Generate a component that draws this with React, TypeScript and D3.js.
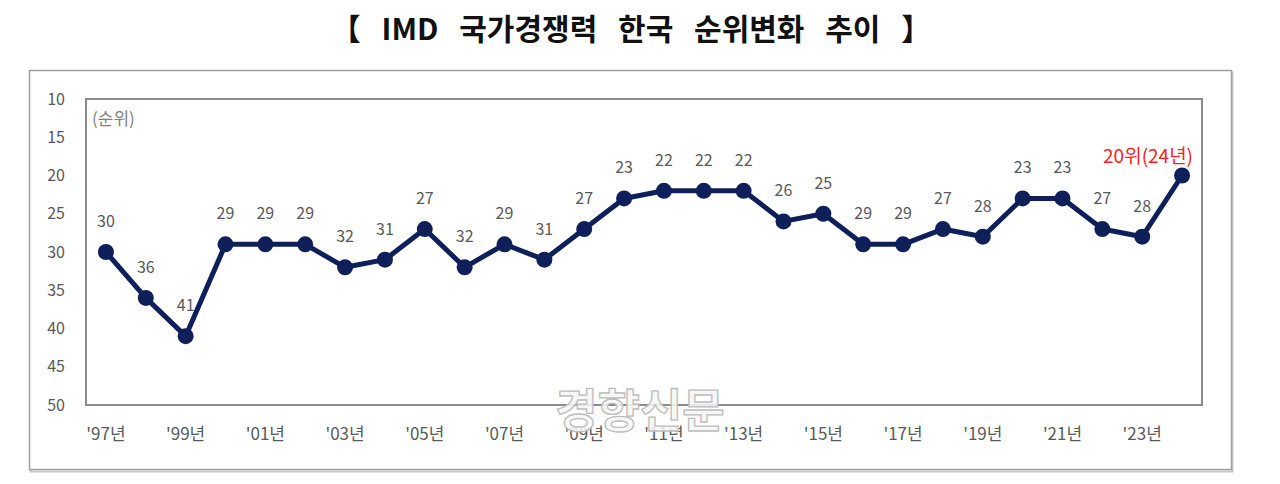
import React, { useEffect, useRef } from 'react';
import * as d3 from 'd3';

// IMD 국가경쟁력 한국 순위 (1997~2024)
const years = d3.range(1997, 2025);
const ranks = [30, 36, 41, 29, 29, 29, 32, 31, 27, 32, 29, 31, 27, 23, 22, 22, 22, 26, 25, 29, 29, 27, 28, 23, 23, 27, 28, 20];
const yTicks = [10, 15, 20, 25, 30, 35, 40, 45, 50];
const title = '【 IMD 국가경쟁력 한국 순위변화 추이 】';
const lastLabel = '20위(24년)';

const FONT = '"Noto Sans CJK KR", "Noto Sans", sans-serif';

export default function App() {
  const ref = useRef<SVGSVGElement>(null);

  useEffect(() => {
    const svg = d3.select(ref.current);
    svg.selectAll('*').remove();

    const margin = { left: 86, right: 78, top: 99, bottom: 79 };
    const W = 1280, H = 484;
    const width = W - margin.left - margin.right;
    const height = H - margin.top - margin.bottom;

    // title
    svg.append('text')
      .attr('x', 631).attr('y', 40)
      .attr('text-anchor', 'middle')
      .style('font-family', FONT).style('font-weight', 700).style('font-size', '30px')
      .style('word-spacing', '14px')
      .attr('fill', '#111')
      .text(title);

    // outer frame
    svg.append('rect')
      .attr('x', 30.5).attr('y', 72.5).attr('width', 1202).attr('height', 399)
      .attr('fill', 'none').attr('stroke', '#c8c8c8').attr('stroke-width', 2);
    svg.append('rect')
      .attr('x', 29.5).attr('y', 70.5).attr('width', 1202).attr('height', 399)
      .attr('fill', '#fff').attr('stroke', '#a0a0a0').attr('stroke-width', 1.5);

    const g = svg.append('g').attr('transform', `translate(${margin.left},${margin.top})`);

    const x = d3.scaleBand<number>().domain(years).range([0, width]);
    const y = d3.scaleLinear().domain([10, 50]).range([0, height]);
    const cx = (yr: number) => (x(yr) as number) + x.bandwidth() / 2;

    // plot border
    g.append('rect')
      .attr('x', 0).attr('y', 0).attr('width', width).attr('height', height)
      .attr('fill', 'none').attr('stroke', '#8c8c8c').attr('stroke-width', 2);

    // y axis labels
    const yAxis = d3.axisLeft(y).tickValues(yTicks).tickSize(0).tickPadding(21);
    const ya = g.append('g').call(yAxis);
    ya.select('.domain').remove();
    ya.selectAll('text')
      .style('font-family', FONT).style('font-size', '16px').attr('fill', '#595959');

    // x axis labels (odd years)
    const xAxis = d3.axisBottom(x)
      .tickValues(years.filter(yr => yr % 2 === 1))
      .tickSize(0).tickPadding(23)
      .tickFormat(d => `'${String(d).slice(2)}년`);
    const xa = g.append('g').attr('transform', `translate(0,${height})`).call(xAxis);
    xa.select('.domain').remove();
    xa.selectAll('text')
      .style('font-family', FONT).style('font-size', '17px').attr('fill', '#595959');

    // unit label
    g.append('text')
      .attr('x', 6).attr('y', 26)
      .style('font-family', FONT).style('font-size', '17px').attr('fill', '#7f7f7f')
      .text('(순위)');

    // watermark (overlaps the x labels, as in the source image)
    svg.append('text')
      .attr('x', 640).attr('y', 427)
      .attr('text-anchor', 'middle')
      .style('font-family', FONT).style('font-weight', 700).style('font-size', '46px')
      .attr('fill', '#f6f6f6').attr('fill-opacity', 0.9)
      .attr('stroke', '#bdbdbd').attr('stroke-width', 1.3)
      .text('경향신문');

    const data = years.map((yr, i) => ({ yr, v: ranks[i] }));

    const line = d3.line<{ yr: number; v: number }>()
      .x(d => cx(d.yr))
      .y(d => y(d.v));

    g.append('path')
      .datum(data)
      .attr('d', line)
      .attr('fill', 'none')
      .attr('stroke', '#0f1f5a')
      .attr('stroke-width', 5)
      .attr('stroke-linejoin', 'round');

    g.selectAll('.point')
      .data(data)
      .enter().append('circle')
      .attr('class', 'point')
      .attr('cx', d => cx(d.yr))
      .attr('cy', d => y(d.v))
      .attr('r', 8)
      .attr('fill', '#0f1f5a');

    // value labels
    g.selectAll('.vlabel')
      .data(data.slice(0, -1))
      .enter().append('text')
      .attr('class', 'vlabel')
      .attr('x', d => cx(d.yr))
      .attr('y', d => y(d.v) - 25)
      .attr('text-anchor', 'middle')
      .style('font-family', FONT).style('font-size', '16px').attr('fill', '#595959')
      .text(d => d.v);

    const last = data[data.length - 1];
    g.append('text')
      .attr('x', cx(last.yr) - 79)
      .attr('y', y(last.v) - 13)
      .style('font-family', FONT).style('font-size', '19px').attr('fill', '#ff2020')
      .text(lastLabel);
  }, []);

  return (
    <div style={{ margin: -8 }}>
      <svg ref={ref} width={1280} height={484} style={{ display: 'block', background: '#fff' }} />
    </div>
  );
}
